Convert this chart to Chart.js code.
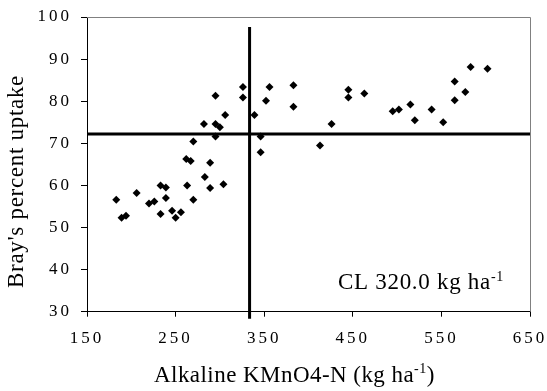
<!DOCTYPE html>
<html>
<head>
<meta charset="utf-8">
<script src="https://cdn.jsdelivr.net/npm/chart.js@4"></script>
<style>
  html, body { margin: 0; padding: 0; background: #fff; }
  canvas { display: block; }
</style>
</head>
<body>
<canvas id="chart" width="547" height="391"></canvas>
<script>
// Alkaline KMnO4-N (kg/ha) and Bray's percent uptake
const nitrogen = [
    183, 189, 194, 206, 220, 226, 233, 233, 239, 239, 246, 250, 256, 263, 262, 267,
    270, 270, 282, 283, 289, 289, 295, 295, 295, 300, 304, 306, 326, 326, 339, 346,
    346, 352, 356, 383, 383, 413, 426, 445, 445, 463, 495, 502, 515, 520, 539, 552,
    565, 565, 577, 583, 602
];
const uptake = [
    56.6, 52.3, 52.8, 58.2, 55.7, 56.2, 60.0, 53.2, 59.5, 57.0, 54.0, 52.3, 53.6, 60.0, 66.3, 65.8,
    56.6, 70.4, 74.6, 62.0, 65.4, 59.4, 81.3, 74.6, 71.6, 73.8, 60.3, 76.7, 83.4, 80.9, 76.7, 71.6,
    67.9, 80.1, 83.4, 83.8, 78.7, 69.5, 74.6, 82.7, 80.9, 81.8, 77.6, 78.0, 79.2, 75.5, 78.0, 75.0,
    84.7, 80.2, 82.2, 88.1, 87.7
];

// critical limit cross lines
const cutoffX = 333.5;
const cutoffY = 72.2;
const xTicks = [150, 250, 350, 450, 550, 650];
const yTicks = [30, 40, 50, 60, 70, 80, 90, 100];

const serif = "'Liberation Serif', 'Times New Roman', serif";

const points = nitrogen.map((n, i) => ({ x: n, y: uptake[i] }));

// draws a run like ["Alkaline KMnO4-N (kg ha", "-1", ")"] with the middle part raised
function drawRuns(ctx, runs, x, y, size) {
    let cx = x;
    runs.forEach((r, i) => {
        const sup = i % 2 === 1;
        ctx.font = (sup ? Math.round(size * 0.62) : size) + 'px ' + serif;
        ctx.fillText(r, cx, sup ? y - size * 0.36 : y);
        cx += ctx.measureText(r).width;
    });
}

const textPlugin = {
    id: 'texts',
    beforeDatasetsDraw(chart) {
        const { ctx, chartArea } = chart;
        ctx.save();
        ctx.strokeStyle = '#808080';
        ctx.lineWidth = 1;
        ctx.beginPath();
        ctx.moveTo(chartArea.left, Math.round(chartArea.top) + 0.5);
        ctx.lineTo(Math.round(chartArea.right) + 0.5, Math.round(chartArea.top) + 0.5);
        ctx.lineTo(Math.round(chartArea.right) + 0.5, chartArea.bottom);
        ctx.stroke();
        ctx.restore();
    },
    afterDraw(chart) {
        const ctx = chart.ctx;
        ctx.save();
        ctx.fillStyle = '#000';
        ctx.textAlign = 'left';
        ctx.textBaseline = 'alphabetic';
        ctx.letterSpacing = '0.45px';
        drawRuns(ctx, ['Alkaline KMnO4-N (kg ha', '-1', ')'], 154, 381.5, 23);
        ctx.letterSpacing = '0.7px';
        drawRuns(ctx, ['CL 320.0 kg ha', '-1'], 338, 289, 23);

        ctx.translate(22.5, 181.5);
        ctx.rotate(-Math.PI / 2);
        ctx.textAlign = 'center';
        ctx.font = '23px ' + serif;
        ctx.fillText("Bray's percent uptake", 0, 0);
        ctx.restore();
    }
};

const spacingPlugin = {
    id: 'spacing',
    beforeDraw(chart) { chart.ctx.letterSpacing = '3px'; },
    afterDraw(chart) { chart.ctx.letterSpacing = '0px'; }
};

new Chart(document.getElementById('chart'), {
    type: 'scatter',
    data: {
        datasets: [{
            data: points,
            pointStyle: 'rectRot',
            pointRadius: 4,
            pointHoverRadius: 4,
            backgroundColor: '#000',
            borderColor: '#000',
            borderWidth: 0
        }, {
            type: 'line',
            data: [{ x: 150, y: cutoffY }, { x: 650, y: cutoffY }],
            borderColor: '#000',
            borderWidth: 3,
            pointRadius: 0,
            clip: false
        }, {
            type: 'line',
            data: [{ x: cutoffX, y: 97.6 }, { x: cutoffX, y: 28.3 }],
            borderColor: '#000',
            borderWidth: 3,
            pointRadius: 0,
            clip: false
        }]
    },
    options: {
        responsive: false,
        animation: false,
        devicePixelRatio: 1,
        layout: { padding: { top: 17, right: 17, left: 0, bottom: 0 } },
        plugins: {
            legend: { display: false },
            tooltip: { enabled: false }
        },
        scales: {
            x: {
                type: 'linear',
                min: 150,
                max: 650,
                afterBuildTicks: s => { s.ticks = xTicks.map(v => ({ value: v })); },
                afterFit: s => { s.height = 79.3; s.paddingLeft = 0; s.paddingRight = 0; },
                grid: { drawOnChartArea: false, drawTicks: true, tickLength: 5, color: '#000' },
                border: { display: true, color: '#000', width: 1 },
                ticks: { color: '#000', padding: 12, maxRotation: 0, font: { family: serif, size: 17 } }
            },
            y: {
                min: 30,
                max: 100,
                afterBuildTicks: s => { s.ticks = yTicks.map(v => ({ value: v })); },
                afterFit: s => { s.width = 87; s.paddingTop = 0; s.paddingBottom = 0; },
                grid: { drawOnChartArea: false, drawTicks: true, tickLength: 6, color: '#000' },
                border: { display: true, color: '#000', width: 1 },
                ticks: { color: '#000', padding: 9, font: { family: serif, size: 17 } }
            }
        }
    },
    plugins: [spacingPlugin, textPlugin]
});
</script>
</body>
</html>
